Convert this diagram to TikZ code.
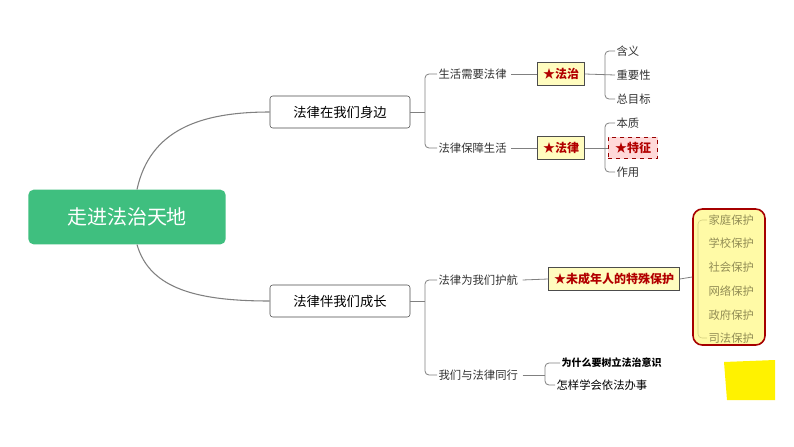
\documentclass[tikz,border=0pt]{standalone}
\usepackage{fontspec}
\setmainfont{Noto Sans CJK SC}
\definecolor{rootg}{HTML}{3FBF7F}
\begin{document}
\begin{tikzpicture}[x=0.75pt,y=-0.75pt,
  lbl/.style={anchor=west,font=\fontsize{8.5}{10}\selectfont,text=black!80,inner sep=1pt},
  l1/.style={draw=black!70,fill=white,rounded corners=2pt,minimum width=105pt,minimum height=24pt,font=\fontsize{10}{12}\selectfont},
  keybox/.style={draw=black!70,fill=yellow!25,line width=0.8pt,font=\bfseries\fontsize{9}{11}\selectfont,text=red!70!black,inner sep=3pt,minimum width=35pt,minimum height=17pt},
  ln/.style={draw=black!50,line width=0.6pt},
  pl/.style={anchor=west,font=\fontsize{8.5}{10}\selectfont,text=olive!60!black!70,inner sep=1pt}]
\useasboundingbox (0,0) rectangle (794,447);
\fill[white] (0,0) rectangle (794,447);
\node[fill=rootg,rounded corners=4pt,minimum width=148pt,minimum height=41pt,text=white,font=\fontsize{15}{18}\selectfont] (root) at (127,217) {走进法治天地};
\node[l1] (a) at (340,112) {法律在我们身边};
\node[l1] (b) at (340,301) {法律伴我们成长};
\draw[ln,line width=0.8pt] (root.north) ++(10,0) coordinate (r1) .. controls (150,130) and (200,112) .. (a.west);
\draw[ln,line width=0.8pt] (root.south) ++(10,0) coordinate (r2) .. controls (150,290) and (200,301) .. (b.west);
% upper
\node[lbl] (a1) at (437,74) {生活需要法律};
\node[lbl] (a2) at (437,148) {法律保障生活};
\draw[ln] (a.east) -- (425,112);
\draw[ln,rounded corners=3pt] (a1.west) -- (425,74) -- (425,148) -- (a2.west);
\node[keybox] (fz) at (561,74) {★法治};
\node[keybox] (fl) at (561,148) {★法律};
\draw[ln] (a1.east)++(3,0) -- (fz.west);
\draw[ln] (a2.east)++(3,0) -- (fl.west);
\node[lbl] (c1) at (615,51) {含义};
\node[lbl] (c2) at (615,75) {重要性};
\node[lbl] (c3) at (615,99) {总目标};
\draw[ln] (fz.east) -- (c2.west);
\draw[ln,rounded corners=3pt] (c1.west) -- (605,51) -- (605,99) -- (c3.west);
\node[lbl] (d1) at (615,123) {本质};
\node[draw=red!60!black,dashed,fill=pink!60,font=\bfseries\fontsize{9}{11}\selectfont,text=red!70!black,minimum width=37pt,minimum height=16pt] (d2) at (633,148) {★特征};
\node[lbl] (d3) at (615,172) {作用};
\draw[ln] (fl.east) -- (d2.west);
\draw[ln,rounded corners=3pt] (d1.west) -- (605,123) -- (605,172) -- (d3.west);
% lower
\node[lbl] (b1) at (437,280) {法律为我们护航};
\node[lbl] (b2) at (437,375) {我们与法律同行};
\draw[ln] (b.east) -- (425,301);
\draw[ln,rounded corners=3pt] (b1.west) -- (425,280) -- (425,375) -- (b2.west);
\node[keybox,minimum width=98pt] (wc) at (614,279) {★未成年人的特殊保护};
\draw[ln] (b1.east)++(3,0) -- (wc.west);
\node[draw=red!65!black,line width=1.2pt,fill=yellow!35,rounded corners=7pt,minimum width=54pt,minimum height=102pt] (pb) at (729,277) {};
\draw[ln] (wc.east) -- (pb.west);
\foreach \t/\y [count=\i] in {家庭保护/220,学校保护/243,社会保护/267,网络保护/291,政府保护/315,司法保护/338}
  \node[pl] (p\i) at (707,\y) {\t};
\draw[draw=olive!40,rounded corners=3pt] (p1.west) -- (698,220) -- (698,338) -- (p6.west);
\node[anchor=west,font=\bfseries\fontsize{7.5}{9}\selectfont,inner sep=1pt] (e1) at (560,363) {为什么要树立法治意识};
\node[lbl,text=black] (e2) at (555,385) {怎样学会依法办事};
\draw[ln] (b2.east)++(3,0) -- (545,375);
\draw[ln,rounded corners=3pt] (e1.west) -- (545,363) -- (545,385) -- (e2.west);
\fill[yellow] (724,362) -- (775,360) -- (775,400) -- (727,400) -- cycle;
\end{tikzpicture}
\end{document}
